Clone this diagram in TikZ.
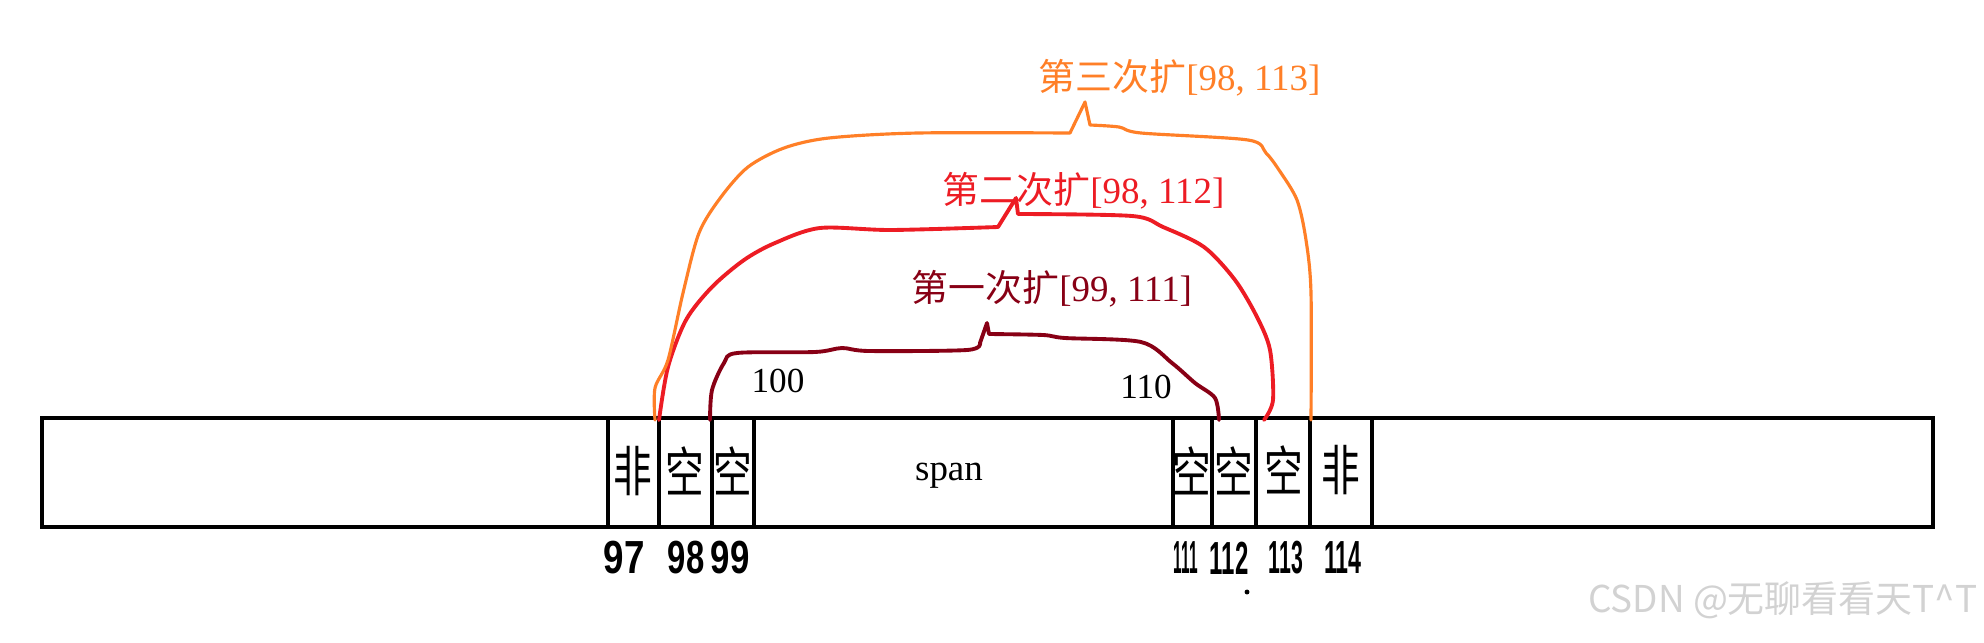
\documentclass[tikz,border=0pt]{standalone}
\usepackage{fontspec}
\usepackage{graphicx}
\setmainfont{Liberation Serif}
\setsansfont{Liberation Sans}
\newfontfamily\cjk{Noto Sans CJK SC}
\usetikzlibrary{positioning}
\definecolor{paintorange}{HTML}{FF7F27}
\definecolor{paintred}{HTML}{ED1C24}
\definecolor{paintmaroon}{HTML}{880015}
\newcommand{\handdigits}[2]{\scalebox{#1}[1.2]{#2}}
\tikzset{
  stripline/.style={line width=1.2pt},
  cellchar/.style={inner sep=0pt, font=\cjk\fontsize{11}{11}\selectfont},
  handnum/.style={inner sep=0pt, font=\sffamily\bfseries\fontsize{11}{11}\selectfont},
  arcline/.style={line width=1.1pt, line join=round, line cap=round},
  arclabel/.style={anchor=west, inner sep=0pt, font=\fontsize{10.5}{10.5}\selectfont},
  plainnum/.style={inner sep=0pt, font=\fontsize{10}{10}\selectfont},
}

\begin{document}
\begin{tikzpicture}[x=0.01cm, y=-0.01cm]
  \useasboundingbox (0,0) rectangle (1984,642);
  % strip of cells
  \draw[stripline] (42,418) rectangle (1933,527);
  \foreach \x in {608,659,712,754,1173,1212,1256,1310,1372}
    \draw[stripline] (\x,418) -- (\x,527);
  \node[cellchar] (c97) at (633,471) {\scalebox{1}[1.4]{非}};
  \node[cellchar] (c98) at (685,471) {\scalebox{1}[1.4]{空}};
  \node[cellchar] (c99) at (733,471) {\scalebox{1}[1.4]{空}};
  \node[plainnum, font=\fontsize{10.5}{10.5}\selectfont] (span) at (949,476) {span};
  \node[cellchar] (c111) at (1192,471) {\scalebox{1}[1.4]{空}};
  \node[cellchar] (c112) at (1234,471) {\scalebox{1}[1.4]{空}};
  \node[cellchar] (c113) at (1284,470) {\scalebox{1}[1.4]{空}};
  \node[cellchar] (c114) at (1341,470) {\scalebox{1}[1.4]{非}};
  % indices under the strip
  \node[handnum] (n97) at (624,558) {\handdigits{0.95}{97}};
  \node[handnum] (n98) at (686,558) {\handdigits{0.85}{98}};
  \node[handnum] (n99) at (730,558) {\handdigits{0.9}{99}};
  \node[handnum] (n111) at (1186,558) {\handdigits{0.4}{111}};
  \node[handnum] (n112) at (1229,558) {\handdigits{0.62}{112}};
  \node[handnum] (n113) at (1286,558) {\handdigits{0.55}{113}};
  \node[handnum] (n114) at (1343,558) {\handdigits{0.6}{114}};
  \fill (1247,592) circle (0.7pt);
  % first expansion
  \coordinate (a1) at (710,420);
  \coordinate (b1) at (1219,420);
  \draw[arcline, paintmaroon] plot[smooth, tension=0.5] coordinates {(a1) (712,390) (724,363) (737,353) (815,352) (842,348) (869,351) (967,350) (980,343)}
    -- (987,323) -- plot[smooth, tension=0.5] coordinates {(989,334) (1043,335) (1065,338) (1141,342) (1172,363) (1195,383) (1215,398) (b1)};
  \node[plainnum] (n100) at (778,381) {100};
  \node[plainnum] (n110) at (1146,387) {110};
  \node[arclabel, text=paintmaroon] (l1) at (911,289) {{\cjk 第一次扩}[99, 111]};
  % second expansion
  \coordinate (a2) at (659,420);
  \coordinate (b2) at (1264,420);
  \draw[arcline, paintred] plot[smooth, tension=0.5] coordinates {(a2) (668,367) (686,320) (712,287) (744,260) (775,243) (820,228) (891,230) (998,227)}
    -- (1016,198) -- plot[smooth, tension=0.5] coordinates {(1018,214) (1132,216) (1163,227) (1204,247) (1235,280) (1257,317) (1270,350) (1273,400) (b2)};
  \node[arclabel, text=paintred] (l2) at (942,191) {{\cjk 第二次扩}[98, 112]};
  % third expansion
  \coordinate (a3) at (655,420);
  \coordinate (b3) at (1311,420);
  \draw[arcline, line width=0.9pt, paintorange] plot[smooth, tension=0.5] coordinates {(a3) (655,388) (668,360) (683,293) (699,233) (721,197) (748,167) (784,148) (829,138) (918,133) (1070,133)}
    -- (1085,102) -- plot[smooth, tension=0.5] coordinates {(1090,125) (1119,127) (1141,133) (1248,140) (1266,153) (1279,170) (1297,200) (1306,240) (1311,293) (b3)};
  \node[arclabel, text=paintorange] (l3) at (1038,78) {{\cjk 第三次扩}[98, 113]};
  % watermark
  \node[anchor=east, inner sep=0pt, text=gray!35, font=\cjk\fontsize{10.5}{10.5}\selectfont] (mark) at (1978,600) {CSDN @无聊看看天T\textasciicircum T};
\end{tikzpicture}
\end{document}
